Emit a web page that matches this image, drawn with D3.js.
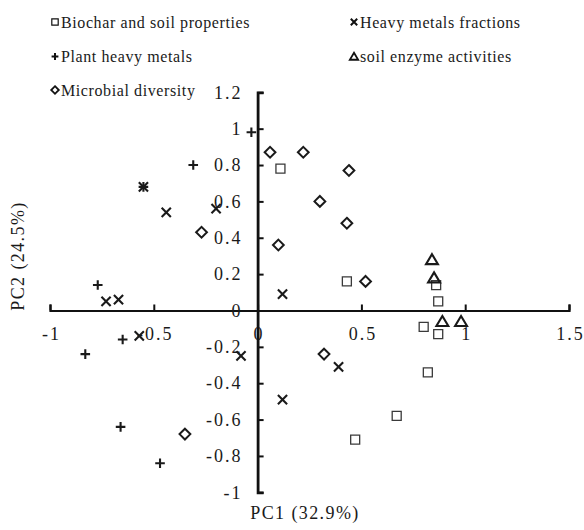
<!DOCTYPE html>
<html>
<head>
<meta charset="utf-8">
<script src="https://cdn.jsdelivr.net/npm/d3@7"></script>
<style>
  html, body { margin: 0; padding: 0; background: #fff; }
  svg { display: block; }
  text { font-family: "Liberation Serif", "Times New Roman", serif; fill: #1a1a1a; }
</style>
</head>
<body>
<svg id="chart" width="584" height="530"></svg>
<script>
// PCA loadings (PC1, PC2) for each variable group
const biocharPC1 = [0.11, 0.43, 0.86, 0.87, 0.80, 0.87, 0.82, 0.67, 0.47];
const biocharPC2 = [0.78, 0.16, 0.14, 0.05, -0.09, -0.13, -0.34, -0.58, -0.71];

const fractionsPC1 = [-0.55, -0.44, -0.20, -0.73, -0.67, 0.12, -0.57, -0.08, 0.12, 0.39];
const fractionsPC2 = [0.68, 0.54, 0.56, 0.05, 0.06, 0.09, -0.14, -0.25, -0.49, -0.31];

const plantPC1 = [-0.03, -0.31, -0.55, -0.77, -0.65, -0.83, -0.66, -0.47];
const plantPC2 = [0.98, 0.80, 0.68, 0.14, -0.16, -0.24, -0.64, -0.84];

const enzymePC1 = [0.84, 0.85, 0.89, 0.98];
const enzymePC2 = [0.28, 0.18, -0.06, -0.06];

const microbePC1 = [0.06, 0.22, 0.44, 0.30, 0.43, 0.10, 0.52, -0.27, 0.32, -0.35];
const microbePC2 = [0.87, 0.87, 0.77, 0.60, 0.48, 0.36, 0.16, 0.43, -0.24, -0.68];

const xTicks = [-1, -0.5, 0, 0.5, 1, 1.5];
const yTicks = [-1, -0.8, -0.6, -0.4, -0.2, 0, 0.2, 0.4, 0.6, 0.8, 1, 1.2];

const xTitle = "PC1 (32.9%)";
const yTitle = "PC2 (24.5%)";

const groups = [
  { name: "Biochar and soil properties", shape: "square",   xs: biocharPC1,   ys: biocharPC2 },
  { name: "Heavy metals fractions",      shape: "cross",    xs: fractionsPC1, ys: fractionsPC2 },
  { name: "Plant heavy metals",          shape: "plus",     xs: plantPC1,     ys: plantPC2 },
  { name: "soil enzyme activities",      shape: "triangle", xs: enzymePC1,    ys: enzymePC2 },
  { name: "Microbial diversity",         shape: "diamond",  xs: microbePC1,   ys: microbePC2 }
];

// marker outlines, s = half size
const shapes = {
  square:   s => `M${-s},${-s}H${s}V${s}H${-s}Z`,
  diamond:  s => `M0,${-s}L${s},0L0,${s}L${-s},0Z`,
  cross:    s => `M${-s},${-s}L${s},${s}M${s},${-s}L${-s},${s}`,
  plus:     s => `M${-s},0H${s}M0,${-s}V${s}`,
  triangle: s => `M0,${-s}L${s * 1.1},${s * 0.85}L${-s * 1.1},${s * 0.85}Z`
};
const markStyle = {
  square:   { size: 4.5, width: 1.3, color: "#3a3a3a" },
  cross:    { size: 4.6, width: 2.1, color: "#1a1a1a" },
  plus:     { size: 4.8, width: 2.1, color: "#1a1a1a" },
  triangle: { size: 5.4, width: 2.1, color: "#1a1a1a" },
  diamond:  { size: 5.4, width: 2.0, color: "#1a1a1a" }
};
const legendStyle = {
  square:   { size: 3.2, width: 1.2 },
  cross:    { size: 3.2, width: 2.0 },
  plus:     { size: 3.4, width: 2.0 },
  triangle: { size: 3.8, width: 1.8 },
  diamond:  { size: 3.8, width: 1.8 }
};

const svg = d3.select("#chart");

const x = d3.scaleLinear().domain([-1, 1.5]).range([50, 569]);
const y = d3.scaleLinear().domain([-1, 1.2]).range([492.3, 92.3]);

// axes cross at the origin, ticks drawn inward
const xAxis = d3.axisBottom(x)
  .tickValues(xTicks)
  .tickFormat(d => String(d))
  .tickSizeInner(-6)
  .tickSizeOuter(-6)
  .tickPadding(17);

const yAxis = d3.axisLeft(y)
  .tickValues(yTicks)
  .tickFormat(d => String(d))
  .tickSizeInner(-6)
  .tickSizeOuter(-6)
  .tickPadding(15);

const gx = svg.append("g").attr("transform", `translate(0,${y(0)})`).call(xAxis);
const gy = svg.append("g").attr("transform", `translate(${x(0)},0)`).call(yAxis);

[gx, gy].forEach(g => {
  g.selectAll(".tick line").attr("stroke", "#111").attr("stroke-width", 2);
  g.selectAll(".tick text")
    .attr("fill", "#1a1a1a")
    .style("font-family", '"Liberation Serif", "Times New Roman", serif')
    .style("font-size", "18px")
    .style("letter-spacing", "2px");
});
gx.selectAll("path.domain").attr("stroke", "#111").attr("stroke-width", 2.2).attr("fill", "none");
gy.selectAll("path.domain").attr("stroke", "#111").attr("stroke-width", 2.8).attr("fill", "none");
gx.selectAll(".tick text").attr("dx", 1);

// axis titles
svg.append("text")
  .attr("x", 305).attr("y", 518.5)
  .attr("text-anchor", "middle")
  .style("font-size", "18px")
  .style("letter-spacing", "1.4px")
  .text(xTitle);

svg.append("text")
  .attr("transform", "translate(24,256) rotate(-90)")
  .attr("text-anchor", "middle")
  .style("font-size", "18px")
  .style("letter-spacing", "1.4px")
  .text(yTitle);

// points
groups.forEach(gr => {
  const st = markStyle[gr.shape];
  svg.append("g")
    .selectAll("path")
    .data(gr.xs.map((v, i) => [v, gr.ys[i]]))
    .join("path")
    .attr("transform", d => `translate(${x(d[0])},${y(d[1])})`)
    .attr("d", shapes[gr.shape](st.size))
    .attr("fill", "none")
    .attr("stroke", st.color)
    .attr("stroke-width", st.width);
});

// legend, two columns
const legendCols = [55, 354];
const legendRows = [22, 56.5, 90];
const lg = svg.append("g");
groups.forEach((gr, i) => {
  const cx = legendCols[i % 2];
  const cy = legendRows[Math.floor(i / 2)];
  const st = legendStyle[gr.shape];
  lg.append("path")
    .attr("transform", `translate(${cx},${cy})`)
    .attr("d", shapes[gr.shape](st.size))
    .attr("fill", "none")
    .attr("stroke", "#111")
    .attr("stroke-width", st.width);
  lg.append("text")
    .attr("x", cx + 6).attr("y", cy + 5.5)
    .style("font-size", "16px")
    .style("letter-spacing", "0.6px")
    .text(gr.name);
});
</script>
</body>
</html>
